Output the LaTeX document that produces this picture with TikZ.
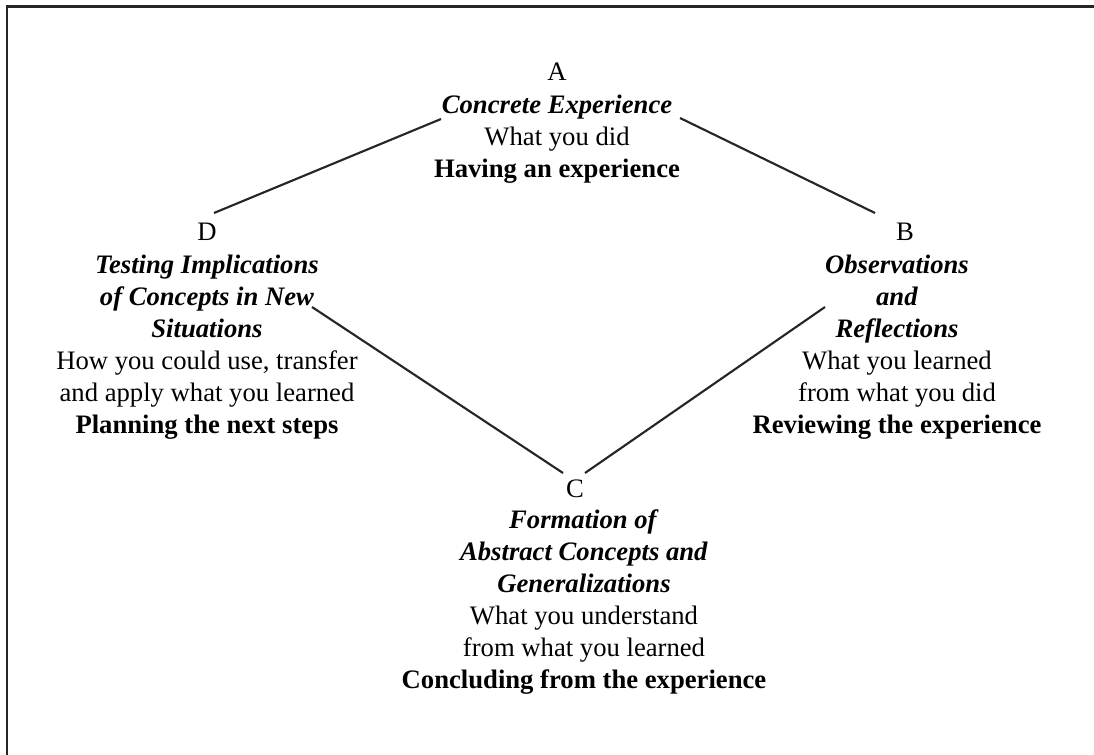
\documentclass[tikz,border=0pt]{standalone}
\usepackage{fontspec}
\setmainfont{Liberation Serif}
\begin{document}
\begin{tikzpicture}[x=0.75pt, y=-0.75pt,
  letter/.style={anchor=base, inner sep=0pt, font=\fontsize{20}{24}\selectfont},
  stage/.style={anchor=center, inner sep=0pt, align=center, font=\fontsize{20}{24}\selectfont},
  edge/.style={line width=1.6pt, black!85}]
  \useasboundingbox (0,0) rectangle (1094,755);
  % frame (top and left)
  \draw[line width=1.6pt, black!85] (7,755) -- (7,6.5) -- (1094,6.5);

  % A (top)
  \node[letter] (A) at (557, 81) {A};
  \node[stage] (tA) at (557, 139) {\textbf{\textit{Concrete Experience}}\\What you did\\\textbf{Having an experience}};

  % B (right)
  \node[letter] (B) at (905, 241) {B};
  \node[stage] (tB) at (897, 347) {\textbf{\textit{Observations}}\\\textbf{\textit{and}}\\\textbf{\textit{Reflections}}\\What you learned\\from what you did\\\textbf{Reviewing the experience}};

  % C (bottom)
  \node[letter] (C) at (575, 497) {C};
  \node[stage] (tC) at (584, 602.5) {\textbf{\textit{Formation of}}\\\textbf{\textit{Abstract Concepts and}}\\\textbf{\textit{Generalizations}}\\What you understand\\from what you learned\\\textbf{Concluding from the experience}};

  % D (left)
  \node[letter] (D) at (207, 241) {D};
  \node[stage] (tD) at (207, 347) {\textbf{\textit{Testing Implications}}\\\textbf{\textit{of Concepts in New}}\\\textbf{\textit{Situations}}\\How you could use, transfer\\and apply what you learned\\\textbf{Planning the next steps}};

  % line ends
  \coordinate (aLeft) at (441, 119);
  \coordinate (aRight) at (680, 118);
  \coordinate (dTop) at (214, 213);
  \coordinate (bTop) at (875, 213);
  \coordinate (dRight) at (312, 307);
  \coordinate (bLeft) at (825, 307);
  \coordinate (cLeft) at (563, 473);
  \coordinate (cRight) at (585, 473);

  % cycle
  \draw[edge] (aLeft) -- (dTop);
  \draw[edge] (aRight) -- (bTop);
  \draw[edge] (dRight) -- (cLeft);
  \draw[edge] (bLeft) -- (cRight);
\end{tikzpicture}
\end{document}
